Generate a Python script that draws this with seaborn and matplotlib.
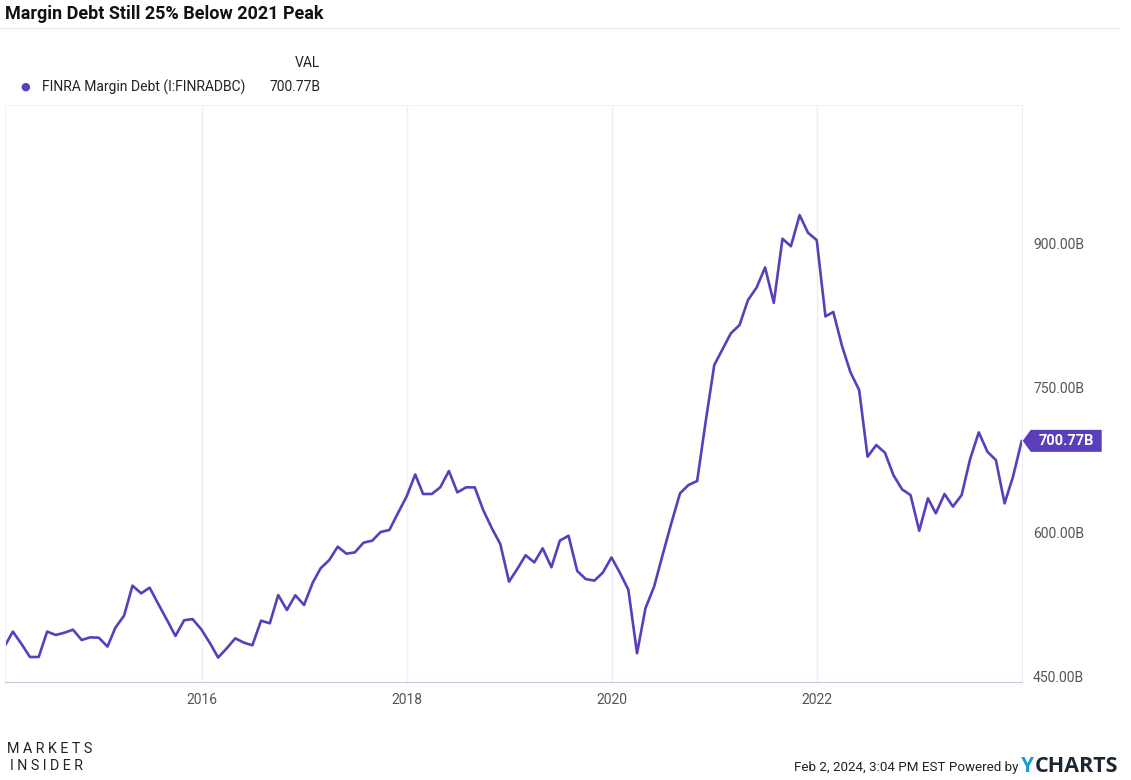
import seaborn as sns
import matplotlib.pyplot as plt
import matplotlib.dates as mdates
from matplotlib.patches import Polygon
import pandas as pd

# monthly FINRA margin debt, billions of USD (month-end)
months = pd.date_range('2014-01-31', '2023-12-31', freq='ME')
margin_debt = [
    487.8, 502.4, 489.4, 476.0, 476.0, 502.4, 498.9, 501.3, 504.4, 493.7, 496.4, 496.1,
    486.8, 506.4, 519.0, 550.2, 542.2, 548.1, 531.1, 514.4, 497.9, 514.2, 515.4, 504.8,
    490.4, 475.4, 485.1, 495.4, 490.9, 488.2, 513.8, 511.0, 540.4, 524.9, 540.2, 530.1,
    553.3, 568.2, 576.9, 590.7, 583.4, 584.8, 594.9, 597.0, 606.0, 608.1, 625.4, 642.7,
    665.8, 645.5, 645.5, 652.4, 669.4, 647.2, 652.4, 652.4, 628.9, 609.8, 593.5, 554.4,
    568.2, 581.8, 574.4, 589.0, 569.3, 597.0, 602.1, 565.4, 557.1, 555.4, 563.7, 579.5,
    563.0, 546.0, 479.9, 526.7, 549.4, 582.1, 615.0, 646.2, 654.8, 659.0, 720.0, 779.6,
    796.9, 812.5, 821.2, 847.1, 860.3, 881.1, 844.3, 910.9, 903.1, 935.5, 917.1, 909.5,
    830.2, 834.7, 799.4, 772.1, 753.6, 684.3, 696.4, 688.4, 665.2, 650.3, 644.4, 607.3,
    641.0, 625.4, 645.5, 632.4, 644.4, 681.6, 709.6, 689.4, 680.8, 635.8, 663.5, 700.77,
]
year_ticks = [2016, 2018, 2020, 2022]
value_ticks = [450, 600, 750, 900]

series_name = 'FINRA Margin Debt (I:FINRADBC)'
title = 'Margin Debt Still 25% Below 2021 Peak'

A = pd.DataFrame({'date': months, 'debt': margin_debt})

purple = '#5a3ebc'
grid_c = '#f0eef4'
grey_txt = '#555555'

sns.set_style('white')
plt.rcParams['font.family'] = ['Roboto', 'DejaVu Sans']

W, H = 1131, 780
fig = plt.figure(figsize=(W / 100, H / 100), dpi=100)
ax = fig.add_axes([5 / W, (H - 682) / H, 1017 / W, 577 / H])

sns.lineplot(data=A, x='date', y='debt', color=purple, linewidth=1.9, ax=ax)

ax.set_xlim(pd.Timestamp('2014-01-31'), pd.Timestamp('2024-01-01'))
ax.set_ylim(450, 1050)
ax.set_xlabel('')
ax.set_ylabel('')

# x axis: years
ax.set_xticks([pd.Timestamp(f'{y}-01-01') for y in year_ticks])
ax.set_xticklabels([str(y) for y in year_ticks], color=grey_txt, fontsize=10)
ax.xaxis.grid(True, color=grid_c, linewidth=1)
ax.yaxis.grid(False)
ax.tick_params(axis='x', length=0, pad=8)

# y axis on the right
ax.yaxis.tick_right()
ax.set_yticks(value_ticks)
ax.set_yticklabels([f'{v:.2f}B' for v in value_ticks], color=grey_txt, fontsize=10)
ax.tick_params(axis='y', length=0, pad=8)
for lbl in ax.get_yticklabels():
    lbl.set_va('baseline')

for side in ['left', 'top']:
    ax.spines[side].set_color('#f2f2f2')
ax.spines['right'].set_color(grid_c)
ax.spines['bottom'].set_color('#cdc6dc')

# last value tag
px, py = ax.transData.transform((mdates.date2num(months[-1]), margin_debt[-1]))
tag = [(px + 1, py), (px + 9, py + 11), (px + 80, py + 11), (px + 80, py - 11), (px + 9, py - 11)]
tag = [(x / W, y / H) for x, y in tag]
fig.patches.append(Polygon(tag, closed=True, facecolor=purple, edgecolor='none',
                           transform=fig.transFigure))
fig.text((px + 45) / W, py / H, f'{margin_debt[-1]:.2f}B', color='white',
         fontsize=10.5, fontweight='bold', ha='center', va='center')

# title and header lines
fig.text(5 / W, 1 - 14 / H, title, fontsize=13, fontweight='bold', color='#111111', va='center')
fig.add_artist(plt.Line2D([0, 1120 / W], [1 - 28 / H, 1 - 28 / H], color='#ececec', linewidth=1))

# legend
fig.text(320 / W, 1 - 63 / H, 'VAL', fontsize=10, color='#222222', ha='right', va='center')
fig.text(25 / W, 1 - 87 / H, '\u25cf', fontsize=8, color=purple, ha='center', va='center')
fig.text(42 / W, 1 - 87 / H, series_name, fontsize=10, color='#222222', va='center')
fig.text(320 / W, 1 - 87 / H, f'{margin_debt[-1]:.2f}B', fontsize=10, color='#222222',
         ha='right', va='center')

# footer
fig.text(7 / W, 1 - 749 / H, 'M A R K E T S', fontsize=10.3, color='#222222', va='center')
fig.text(10 / W, 1 - 766 / H, 'I N S I D E R', fontsize=10.3, color='#222222', va='center')
fig.text(1018 / W, 1 - 767 / H, 'Feb 2, 2024, 3:04 PM EST Powered by', fontsize=9.6,
         color='#222222', ha='right', va='center')
fig.text(1021 / W, 1 - 767 / H, 'Y', fontsize=15, fontweight='bold', color='#1a9ad6',
         va='center', family='Open Sans')
fig.text(1035 / W, 1 - 767 / H, 'CHARTS', fontsize=15.5, fontweight='bold', color='#1d2733',
         va='center', family='Open Sans')

fig.savefig('out.png', dpi=100)
